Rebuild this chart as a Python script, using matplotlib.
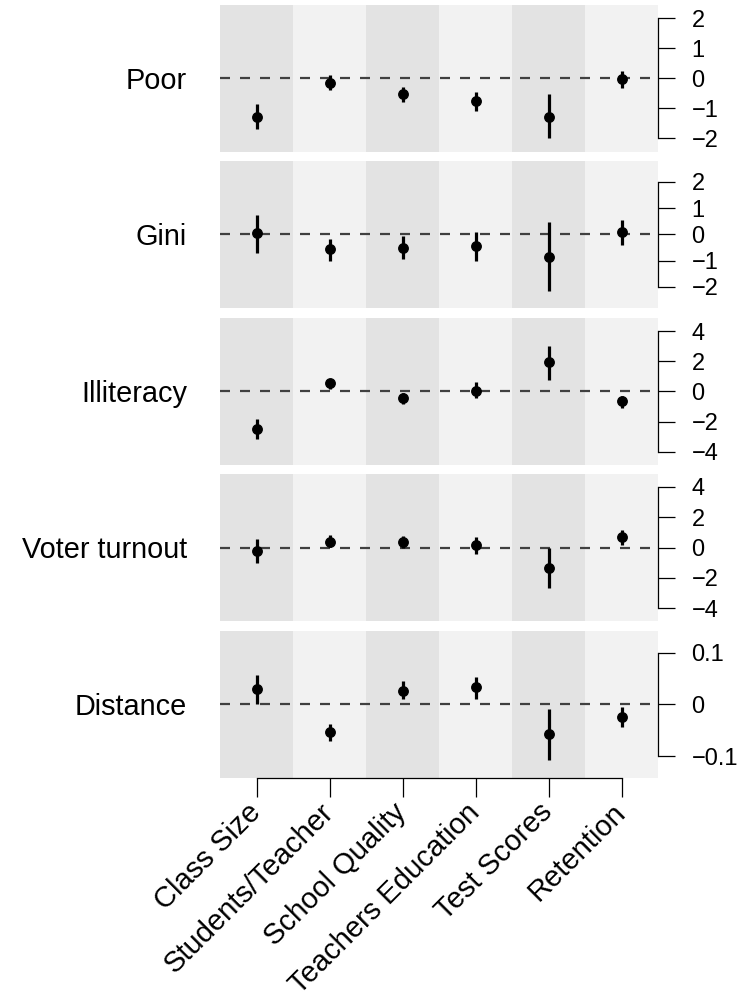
import numpy as np
import matplotlib
matplotlib.use("Agg")
import matplotlib.pyplot as plt

plt.rcParams['font.family'] = ['Liberation Sans', 'DejaVu Sans']

# columns (x axis) and rows (one panel each)
items = ["Class Size", "Students/Teacher", "School Quality",
         "Teachers Education", "Test Scores", "Retention"]
rows = ["Poor", "Gini", "Illiteracy", "Voter turnout", "Distance"]

# point estimates and interval ends
poor_est = [-1.28, -0.15, -0.53, -0.76, -1.28, -0.02]
poor_lo = [-1.70, -0.37, -0.78, -1.09, -2.00, -0.31]
poor_hi = [-0.86, 0.11, -0.28, -0.45, -0.53, 0.24]

gini_est = [0.04, -0.57, -0.50, -0.45, -0.85, 0.08]
gini_lo = [-0.72, -1.00, -0.94, -1.00, -2.15, -0.41]
gini_hi = [0.76, -0.18, -0.06, 0.10, 0.46, 0.54]

illit_est = [-2.49, 0.53, -0.40, 0.05, 1.92, -0.66]
illit_lo = [-3.15, 0.16, -0.83, -0.44, 0.77, -1.10]
illit_hi = [-1.83, 0.82, -0.07, 0.60, 3.03, -0.28]

voter_est = [-0.22, 0.38, 0.38, 0.16, -1.37, 0.67]
voter_lo = [-1.00, 0.01, -0.05, -0.45, -2.64, 0.16]
voter_hi = [0.54, 0.82, 0.76, 0.71, -0.05, 1.15]

dist_est = [0.029, -0.053, 0.027, 0.034, -0.057, -0.025]
dist_lo = [0.000, -0.071, 0.010, 0.011, -0.107, -0.043]
dist_hi = [0.057, -0.037, 0.045, 0.054, -0.008, -0.005]

# right axis ticks per panel
poor_ticks = [-2, -1, 0, 1, 2]
gini_ticks = [-2, -1, 0, 1, 2]
illit_ticks = [-4, -2, 0, 2, 4]
voter_ticks = [-4, -2, 0, 2, 4]
dist_ticks = [-0.1, 0, 0.1]
dist_tick_labels = ["\u22120.1", "0", "0.1"]

panels = [
    (poor_est, poor_lo, poor_hi, poor_ticks, None, 2.45),
    (gini_est, gini_lo, gini_hi, gini_ticks, None, 2.8),
    (illit_est, illit_lo, illit_hi, illit_ticks, None, 4.86),
    (voter_est, voter_lo, voter_hi, voter_ticks, None, 4.85),
    (dist_est, dist_lo, dist_hi, dist_ticks, dist_tick_labels, 0.142),
]

W, H = 747, 1005
fig = plt.figure(figsize=(W / 100, H / 100), dpi=100)

left_px, width_px, height_px = 220, 438, 147
tops_px = [5, 161, 318, 474, 631]
dark, light = "#e3e3e3", "#f2f2f2"
x = np.arange(1, len(items) + 1)

for i, (est, lo, hi, ticks, tlabels, lim) in enumerate(panels):
    ax = fig.add_axes([left_px / W, 1 - (tops_px[i] + height_px) / H,
                       width_px / W, height_px / H])
    for j in range(len(items)):
        ax.axvspan(j + 0.5, j + 1.5, color=dark if j % 2 == 0 else light,
                   lw=0, zorder=0)
    ax.axhline(0, color="#404040", lw=1.6, dashes=(4.5, 4.5), zorder=1)
    ax.vlines(x, lo, hi, color="black", lw=2.3, zorder=2)
    ax.plot(x, est, "o", color="black", ms=6.8, zorder=3)

    ax.set_xlim(0.5, 6.5)
    ax.set_ylim(-lim, lim)

    for s in ["top", "left"]:
        ax.spines[s].set_visible(False)
    ax.yaxis.tick_right()
    ax.set_yticks(ticks)
    if tlabels is not None:
        ax.set_yticklabels(tlabels)
    ax.spines["right"].set_bounds(min(ticks), max(ticks))
    ax.spines["right"].set_linewidth(0.9)
    ax.tick_params(axis="y", length=12.2, width=0.9, pad=12, labelsize=17)

    if i == len(panels) - 1:
        ax.spines["bottom"].set_bounds(1, len(items))
        ax.spines["bottom"].set_linewidth(0.9)
        ax.set_xticks(x)
        ax.set_xticklabels(items, rotation=45, ha="right", va="center",
                           rotation_mode="anchor", fontsize=21)
        ax.tick_params(axis="x", length=13.7, width=0.9, pad=8)
    else:
        ax.spines["bottom"].set_visible(False)
        ax.set_xticks([])

    ax.text(-33 / width_px, 0.5 - 10.4 / height_px, rows[i],
            transform=ax.transAxes, ha="right", va="baseline", fontsize=20.8)

fig.savefig("out.png", dpi=100)
